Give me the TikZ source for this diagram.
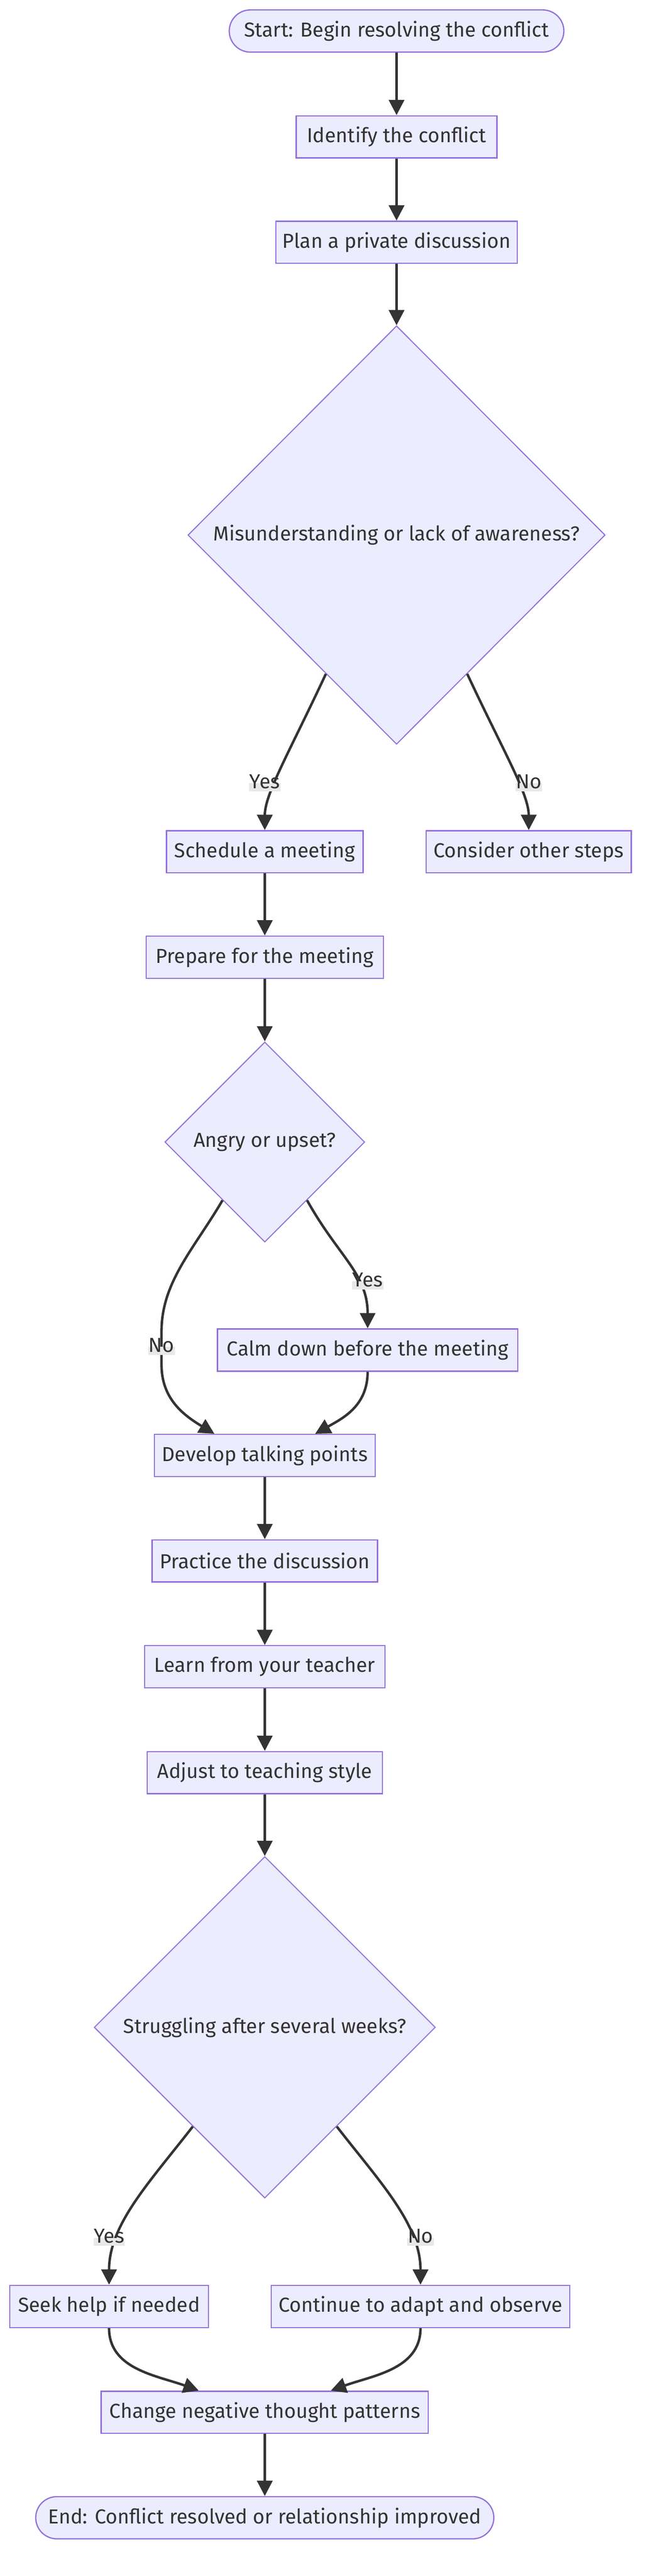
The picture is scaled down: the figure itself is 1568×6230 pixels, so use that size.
\documentclass[tikz,border=0pt]{standalone}
\usepackage{fontspec}
\setmainfont{Fira Sans}
\usetikzlibrary{shapes.geometric,arrows.meta,positioning}
\definecolor{boxfill}{HTML}{ECECFF}
\definecolor{boxline}{HTML}{9370DB}
\definecolor{ink}{HTML}{333333}
\definecolor{lblfill}{HTML}{E8E8E8}
\begin{document}
\begin{tikzpicture}[x=1pt,y=-1pt,
 every node/.style={font=\fontsize{49}{59}\selectfont,text=ink},
 box/.style={draw=boxline,fill=boxfill,line width=3pt,minimum height=102pt,inner sep=0pt},
 term/.style={box,rounded corners=51pt},
 choice/.style={diamond,draw=boxline,fill=boxfill,line width=2.5pt,inner sep=0pt},
 lbl/.style={fill=lblfill,inner xsep=1pt,inner ysep=5pt,text height=0.75em,text depth=0.2em},
 flow/.style={draw=ink,line width=6pt,-{Triangle[length=37pt,width=37pt]}}]
 \fill[white] (0,0) rectangle (1568,6230);
 \useasboundingbox (0,0) rectangle (1568,6230);

 \node[term,minimum width=810pt] (start) at (960,75) {Start: Begin resolving the conflict};
 \node[box,minimum width=486pt] (identify) at (960,331) {Identify the conflict};
 \node[box,minimum width=584pt] (plan) at (960,586) {Plan a private discussion};
 \node[choice,minimum width=1010pt,minimum height=1012pt] (aware) at (960,1294) {Misunderstanding or lack of awareness?};
 \node[box,minimum width=476pt] (schedule) at (641,2060) {Schedule a meeting};
 \node[box,minimum width=496pt] (other) at (1280,2060) {Consider other steps};
 \node[box,minimum width=575pt] (prepare) at (641,2315) {Prepare for the meeting};
 \node[choice,minimum width=484pt,minimum height=484pt] (angry) at (641,2762) {Angry or upset?};
 \node[box,minimum width=727pt] (calm) at (890,3265) {Calm down before the meeting};
 \node[box,minimum width=534pt] (points) at (641,3520) {Develop talking points};
 \node[box,minimum width=546pt] (practice) at (641,3775) {Practice the discussion};
 \node[box,minimum width=582pt] (learn) at (641,4031) {Learn from your teacher};
 \node[box,minimum width=569pt] (adjust) at (641,4287) {Adjust to teaching style};
 \node[choice,minimum width=826pt,minimum height=826pt] (struggle) at (641,4903) {Struggling after several weeks?};
 \node[box,minimum width=481pt] (help) at (264,5578) {Seek help if needed};
 \node[box,minimum width=722pt] (continue) at (1018,5578) {Continue to adapt and observe};
 \node[box,minimum width=792pt] (change) at (641,5834) {Change negative thought patterns};
 \node[term,minimum width=1109pt] (end) at (641,6089) {End: Conflict resolved or relationship improved};

 \draw[flow] (start) -- (identify);
 \draw[flow] (identify) -- (plan);
 \draw[flow] (plan) -- (aware);
 \draw[flow] (aware.-117) .. controls (700,1820) and (641,1920) .. (schedule.north);
 \draw[flow] (aware.-63) .. controls (1220,1820) and (1280,1920) .. (other.north);
 \draw[flow] (schedule) -- (prepare);
 \draw[flow] (prepare) -- (angry);
 \draw[flow] (angry.-54) .. controls (820,3040) and (890,3080) .. (calm.north);
 \draw[flow] (angry.-126) .. controls (470,3020) and (391,3100) .. (391,3220) -- (391,3300)
   .. controls (391,3380) and (440,3420) .. ([xshift=-122pt]points.north);
 \draw[flow] (calm.south) .. controls (890,3400) and (830,3430) .. ([xshift=122pt]points.north);
 \draw[flow] (points) -- (practice);
 \draw[flow] (practice) -- (learn);
 \draw[flow] (learn) -- (adjust);
 \draw[flow] (adjust) -- (struggle);
 \draw[flow] (struggle.-126) .. controls (360,5280) and (264,5380) .. (help.north);
 \draw[flow] (struggle.-54) .. controls (922,5280) and (1018,5380) .. (continue.north);
 \draw[flow] (help.south) .. controls (264,5730) and (380,5745) .. ([xshift=-160pt]change.north);
 \draw[flow] (continue.south) .. controls (1018,5730) and (902,5745) .. ([xshift=160pt]change.north);
 \draw[flow] (change) -- (end);

 \node[lbl] (yes1) at (641,1904) {Yes};
 \node[lbl] (no1) at (1280,1904) {No};
 \node[lbl] (yes2) at (890,3109) {Yes};
 \node[lbl] (no2) at (391,3267) {No};
 \node[lbl] (yes3) at (264,5422) {Yes};
 \node[lbl] (no3) at (1018,5422) {No};
\end{tikzpicture}
\end{document}
